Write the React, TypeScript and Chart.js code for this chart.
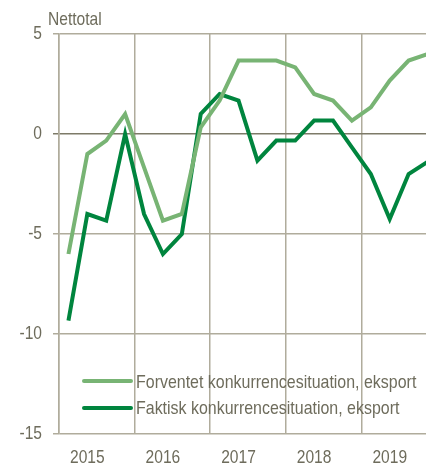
import React, { useEffect, useRef } from "react";
import { Chart, registerables } from "chart.js";

Chart.register(...registerables);

const quarters = [
  "2015K1", "2015K2", "2015K3", "2015K4",
  "2016K1", "2016K2", "2016K3", "2016K4",
  "2017K1", "2017K2", "2017K3", "2017K4",
  "2018K1", "2018K2", "2018K3", "2018K4",
  "2019K1", "2019K2", "2019K3", "2019K4",
];
const yearLabels = ["2015", "2016", "2017", "2018", "2019"];
const yTicks = [5, 0, -5, -10, -15];
const forventet = [-6, -1, -0.33, 1, -1.67, -4.33, -4, 0.33, 1.67, 3.67, 3.67, 3.67, 3.33, 2, 1.67, 0.67, 1.33, 2.67, 3.67, 4];
const faktisk = [-9.33, -4, -4.33, 0, -4, -6, -5, 1, 2, 1.67, -1.33, -0.33, -0.33, 0.67, 0.67, -0.67, -2, -4.25, -2, -1.4];
const seriesNames = ["Forventet konkurrencesituation, eksport", "Faktisk konkurrencesituation, eksport"];
const yAxisTitle = "Nettotal";

const LIGHT = "#78b474";
const DARK = "#00853e";
const TEXT = "#6e6c5c";
const GRID = "#b0ac9c";
const ZERO = "#7d7a68";
const FONT = "'Liberation Sans', Arial, sans-serif";
const FS = 19;
const SX = 0.82;
const SX_LEGEND = 0.84;

export default function App() {
  const ref = useRef<HTMLCanvasElement | null>(null);
  useEffect(() => {
    if (!ref.current) return;
    const toPts = (arr: number[]) => arr.map((v, i) => ({ x: i + 0.5, y: v }));
    const txt = (ctx: any, s: string, x: number, y: number, align: string, base: string, sx = SX) => {
      ctx.save();
      ctx.translate(x, y);
      ctx.scale(sx, 1);
      ctx.textAlign = align;
      ctx.textBaseline = base;
      ctx.fillText(s, 0, 0);
      ctx.restore();
    };
    const overlay = {
      id: "overlay",
      afterDatasetsDraw(chart: any) {
        const { ctx, chartArea, scales } = chart;
        ctx.save();
        ctx.font = `${FS}px ${FONT}`;
        ctx.fillStyle = TEXT;
        txt(ctx, yAxisTitle, chartArea.left - 11, 25, "left", "alphabetic");
        for (const v of yTicks) {
          txt(ctx, String(v), chartArea.left - 17, scales.y.getPixelForValue(v), "right", "middle");
        }
        yearLabels.forEach((lab, k) => {
          txt(ctx, lab, scales.x.getPixelForValue(k * 4 + 1.5), 463, "center", "alphabetic");
        });
        const rows = [
          { c: LIGHT, t: seriesNames[0], y: 381, b: 388 },
          { c: DARK, t: seriesNames[1], y: 408, b: 414 },
        ];
        for (const r of rows) {
          ctx.strokeStyle = r.c;
          ctx.lineWidth = 4;
          ctx.lineCap = "round";
          ctx.beginPath();
          ctx.moveTo(84, r.y);
          ctx.lineTo(131, r.y);
          ctx.stroke();
          ctx.fillStyle = TEXT;
          txt(ctx, r.t, 136, r.b, "left", "alphabetic", SX_LEGEND);
        }
        ctx.restore();
      },
    };
    const chart = new Chart(ref.current, {
      type: "line",
      data: {
        labels: quarters,
        datasets: [
          { label: seriesNames[0], data: toPts(forventet), borderColor: LIGHT, borderWidth: 4, pointRadius: 0, tension: 0, fill: false },
          { label: seriesNames[1], data: toPts(faktisk), borderColor: DARK, borderWidth: 4, pointRadius: 0, tension: 0, fill: false },
        ],
      },
      options: {
        animation: false,
        responsive: true,
        maintainAspectRatio: false,
        layout: { padding: { top: 34, right: 0, bottom: 0, left: 0 } },
        plugins: { legend: { display: false }, tooltip: { enabled: false } },
        scales: {
          x: {
            type: "linear",
            min: 0,
            max: 19.42,
            afterBuildTicks: (scale: any) => {
              const t: any[] = [];
              for (let k = 0; k < yearLabels.length; k++) t.push({ value: k * 4 });
              scale.ticks = t;
            },
            afterFit: (scale: any) => { scale.height = 33; },
            ticks: { autoSkip: false, maxRotation: 0, color: "rgba(0,0,0,0)", font: { family: FONT, size: 16 } },
            grid: { drawTicks: false, lineWidth: 1.5, color: GRID },
            border: { display: false },
          },
          y: {
            min: -15,
            max: 5,
            afterFit: (scale: any) => { scale.width = 59; },
            ticks: { stepSize: 5, padding: 10, color: "rgba(0,0,0,0)", font: { family: FONT, size: 16 } },
            grid: {
              tickLength: 6,
              lineWidth: 1.5,
              color: (c: any) => (c.tick && c.tick.value === 0 ? ZERO : GRID),
            },
            border: { display: true, color: GRID, width: 1.5 },
          },
        },
      },
      plugins: [overlay],
    } as any);
    return () => chart.destroy();
  }, []);
  return (
    <div style={{ position: "fixed", left: 0, top: 0, width: 426, height: 467, background: "#fff" }}>
      <canvas ref={ref} />
    </div>
  );
}
